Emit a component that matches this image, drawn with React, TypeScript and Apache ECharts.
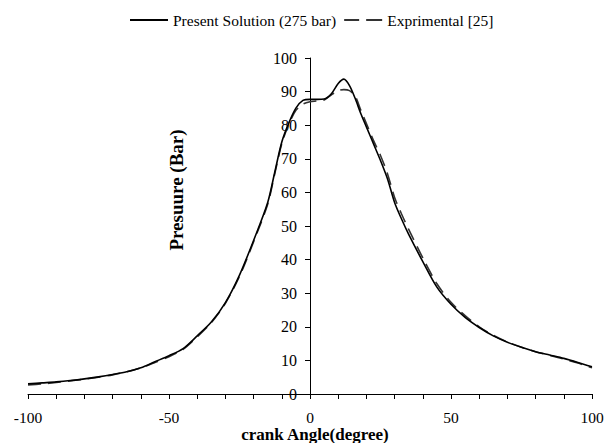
import React, { useEffect, useRef } from "react";
import * as echarts from "echarts";

const angles = [-100, -95, -90, -85, -80, -75, -70, -65, -60, -55, -50, -45, -40, -35, -30, -25, -20, -15, -12.5, -10, -7.5, -5, -2.5, 0, 2.5, 5, 7.5, 10, 12, 14, 16, 18, 20, 22.5, 25, 27.5, 30, 32.5, 35, 40, 45, 50, 55, 60, 65, 70, 75, 80, 85, 90, 95, 100];

const presentSolution = [3.0, 3.3, 3.6, 4.0, 4.5, 5.1, 5.8, 6.6, 7.8, 9.6, 11.4, 13.5, 17.3, 21.4, 27.2, 35.4, 45.7, 57.0, 66.0, 75.0, 80.7, 85.1, 87.4, 87.7, 87.7, 87.8, 89.3, 92.4, 93.7, 91.8, 88.0, 83.5, 79.5, 74.5, 69.5, 64.0, 57.0, 52.0, 47.5, 39.4, 31.8, 26.7, 22.8, 19.8, 17.3, 15.4, 13.9, 12.6, 11.6, 10.6, 9.4, 8.1];

const experimental = [2.7, 3.0, 3.4, 3.9, 4.4, 5.0, 5.7, 6.6, 7.8, 9.4, 11.1, 13.3, 17.0, 21.2, 27.0, 35.0, 45.3, 56.5, 65.5, 74.5, 80.3, 84.4, 86.3, 87.0, 87.2, 87.5, 89.0, 90.3, 90.6, 90.3, 88.7, 84.5, 80.5, 75.5, 71.0, 65.5, 58.5, 53.5, 49.0, 40.5, 32.8, 27.3, 23.3, 20.0, 17.5, 15.5, 13.9, 12.6, 11.5, 10.4, 9.2, 7.8];

const seriesNames = ["Present Solution (275 bar)", "Exprimental [25]"];
const xTitle = "crank Angle(degree)";
const yTitle = "Presuure (Bar)";

const FONT = "'Liberation Serif', 'Times New Roman', serif";

export default function App() {
  const ref = useRef<HTMLDivElement>(null);
  useEffect(() => {
    if (!ref.current) return;
    const chart = echarts.init(ref.current, undefined, { renderer: "svg" });
    chart.setOption({
      animation: false,
      backgroundColor: "#ffffff",
      textStyle: { fontFamily: FONT, color: "#000" },
      legend: {
        left: 130,
        top: 12,
        padding: 0,
        itemWidth: 38,
        itemHeight: 2,
        itemGap: 8,
        textStyle: { fontFamily: FONT, fontSize: 15.5, color: "#000" },
        data: [
          { name: seriesNames[0], icon: "path://M0,0H38V2H0Z" },
          { name: seriesNames[1], icon: "path://M0,0H15V2H0Z M22,0H38V2H22Z" },
        ],
      },
      grid: { left: 28, right: 19, top: 58, bottom: 49, containLabel: false, outerBoundsMode: "none" },
      xAxis: {
        type: "value",
        min: -100,
        max: 100,
        interval: 50,
        axisLine: { onZero: true, lineStyle: { color: "#000", width: 1 } },
        axisTick: { show: true, length: 5, lineStyle: { color: "#000" } },
        minorTick: { show: true, splitNumber: 5, length: 5, lineStyle: { color: "#000" } },
        splitLine: { show: false },
        axisLabel: { fontFamily: FONT, fontSize: 15.5, color: "#000", margin: 15 },
      },
      yAxis: {
        type: "value",
        min: 0,
        max: 100,
        interval: 10,
        position: "left",
        offset: -282,
        axisLine: { show: true, onZero: false, lineStyle: { color: "#000", width: 1 } },
        axisTick: { show: true, length: 5, lineStyle: { color: "#000" } },
        splitLine: { show: false },
        axisLabel: { fontFamily: FONT, fontSize: 16, color: "#000", margin: 13 },
      },
      graphic: [
        {
          type: "text",
          x: 176,
          y: 190,
          rotation: Math.PI / 2,
          style: {
            text: yTitle,
            fontFamily: FONT,
            fontSize: 19,
            fontWeight: "bold",
            fill: "#000",
            align: "center",
            verticalAlign: "middle",
          },
        },
        {
          type: "text",
          x: 315,
          y: 434.5,
          style: {
            text: xTitle,
            fontFamily: FONT,
            fontSize: 17,
            fontWeight: "bold",
            fill: "#000",
            align: "center",
            verticalAlign: "middle",
          },
        },
      ],
      series: [
        {
          name: seriesNames[0],
          type: "line",
          symbol: "none",
          smooth: 0.3,
          data: angles.map((a, i) => [a, presentSolution[i]]),
          lineStyle: { color: "#000", width: 1.6, type: "solid" },
          itemStyle: { color: "#000" },
          z: 3,
        },
        {
          name: seriesNames[1],
          type: "line",
          symbol: "none",
          smooth: 0.3,
          data: angles.map((a, i) => [a, experimental[i]]),
          lineStyle: { color: "#333", width: 1.6, type: [13, 7] },
          itemStyle: { color: "#333" },
          z: 2,
        },
      ],
    });
    return () => chart.dispose();
  }, []);
  return (
    <div
      ref={ref}
      style={{ position: "absolute", left: 0, top: 0, width: 611, height: 443 }}
    />
  );
}
